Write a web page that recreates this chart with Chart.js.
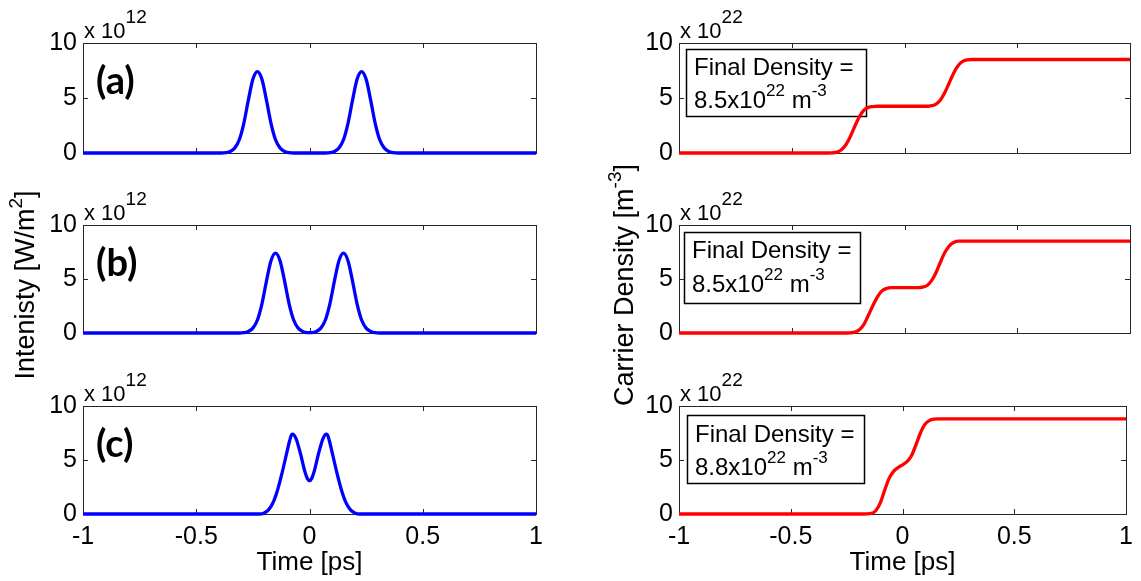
<!DOCTYPE html>
<html>
<head>
<meta charset="utf-8">
<script src="https://cdn.jsdelivr.net/npm/chart.js@4/dist/chart.umd.min.js"></script>
<style>
  html, body { margin: 0; padding: 0; background: #fff; }
  #wrap { position: relative; width: 1141px; height: 581px; overflow: hidden; background: #fff; }
  #wrap canvas { position: absolute; left: 0; top: 0; }
</style>
</head>
<body>
<div id="wrap"></div>
<script>
// ---- axis ticks ----
const xTicks = [-1, -0.5, 0, 0.5, 1];
const xTickLabels = ['-1', '-0.5', '0', '0.5', '1'];
const yTicks = [0, 5, 10];
const yTickLabels = ['0', '5', '10'];

// ---- pulse intensity, units of 10^12 W/m^2, time in ps ----
const timeIntA = [-1, -0.39, -0.37, -0.35, -0.33, -0.31, -0.29, -0.27, -0.25, -0.23, -0.21, -0.19, -0.17, -0.15, -0.13, -0.11, -0.09, -0.07,
                  0.07, 0.09, 0.11, 0.13, 0.15, 0.17, 0.19, 0.21, 0.23, 0.25, 0.27, 0.29, 0.31, 0.33, 0.35, 0.37, 0.39, 1];
const intensityA = [0, 0, 0.03, 0.13, 0.45, 1.2, 2.7, 4.8, 6.7, 7.4, 6.7, 4.8, 2.7, 1.2, 0.45, 0.13, 0.03, 0,
                    0, 0.03, 0.13, 0.45, 1.2, 2.7, 4.8, 6.7, 7.4, 6.7, 4.8, 2.7, 1.2, 0.45, 0.13, 0.03, 0, 0];

const timeIntB = [-1, -0.31, -0.29, -0.27, -0.25, -0.23, -0.21, -0.19, -0.17, -0.15, -0.13, -0.11, -0.09, -0.07, -0.05, -0.03, -0.01,
                  0.01, 0.03, 0.05, 0.07, 0.09, 0.11, 0.13, 0.15, 0.17, 0.19, 0.21, 0.23, 0.25, 0.27, 0.29, 0.31, 1];
const intensityB = [0, 0, 0.03, 0.13, 0.45, 1.2, 2.7, 4.8, 6.7, 7.4, 6.7, 4.8, 2.7, 1.2, 0.45, 0.13, 0.03,
                    0.03, 0.13, 0.45, 1.2, 2.7, 4.8, 6.7, 7.4, 6.7, 4.8, 2.7, 1.2, 0.45, 0.13, 0.03, 0, 0];

const timeIntC = [-1, -0.22, -0.2, -0.18, -0.16, -0.14, -0.12, -0.1, -0.09, -0.08, -0.075, -0.06, -0.04, -0.02, -0.01, 0,
                  0.01, 0.02, 0.04, 0.06, 0.075, 0.08, 0.09, 0.1, 0.12, 0.14, 0.16, 0.18, 0.2, 0.22, 1];
const intensityC = [0, 0, 0.1, 0.4, 1.1, 2.3, 3.9, 5.7, 6.6, 7.3, 7.4, 7.0, 5.6, 3.9, 3.3, 3.1,
                    3.3, 3.9, 5.6, 7.0, 7.4, 7.3, 6.6, 5.7, 3.9, 2.3, 1.1, 0.4, 0.1, 0, 0];

// ---- carrier density, units of 10^22 m^-3 ----
const timeDenA = [-1, -0.36, -0.32, -0.3, -0.28, -0.26, -0.24, -0.22, -0.2, -0.18, -0.16, -0.14, -0.12,
                  0.1, 0.12, 0.14, 0.16, 0.18, 0.2, 0.22, 0.24, 0.26, 0.28, 0.3, 1];
const densityA = [0, 0, 0.02, 0.08, 0.3, 0.75, 1.5, 2.45, 3.3, 3.9, 4.15, 4.22, 4.25,
                  4.25, 4.3, 4.45, 4.85, 5.55, 6.45, 7.35, 8.0, 8.35, 8.47, 8.5, 8.5];

const timeDenB = [-1, -0.28, -0.24, -0.22, -0.2, -0.18, -0.16, -0.14, -0.12, -0.1, -0.08, -0.06,
                  0.06, 0.08, 0.1, 0.12, 0.14, 0.16, 0.18, 0.2, 0.22, 0.24, 1];
const densityB = [0, 0, 0.02, 0.08, 0.3, 0.8, 1.65, 2.55, 3.35, 3.9, 4.12, 4.2,
                  4.2, 4.25, 4.4, 4.85, 5.6, 6.6, 7.5, 8.1, 8.4, 8.5, 8.5];

const timeDenC = [-1, -0.18, -0.14, -0.12, -0.1, -0.08, -0.06, -0.04, -0.02, 0, 0.02, 0.04, 0.06, 0.08, 0.1, 0.12, 0.14, 0.16, 1];
const densityC = [0, 0, 0.05, 0.3, 1.0, 2.2, 3.3, 3.95, 4.3, 4.55, 4.85, 5.4, 6.4, 7.5, 8.3, 8.65, 8.78, 8.8, 8.8];

// ---- text ----
const panelTags = ['(a)', '(b)', '(c)'];
const finalDensityText = ['8.5', '8.5', '8.8'];
const intensityExponent = '12';
const densityExponent = '22';

// ---------------------------------------------------------------
const W = 1141, H = 581;
const FONT = '"Liberation Sans", Arial, Helvetica, sans-serif';
const TAG_FONT = 'bold 38px Lato, "Liberation Sans", sans-serif';
const Y_AXIS_W = 60, X_AXIS_H = 50;
const wrap = document.getElementById('wrap');

function f(size) { return size + 'px ' + FONT; }

// draws a run of text pieces, each with its own font and vertical shift
function drawRich(ctx, parts, x, y, align) {
  let total = 0;
  for (const p of parts) { ctx.font = p.font; total += ctx.measureText(p.text).width; }
  let cx = align === 'center' ? x - total / 2 : x;
  ctx.textAlign = 'left';
  ctx.textBaseline = 'alphabetic';
  for (const p of parts) {
    ctx.font = p.font;
    ctx.fillText(p.text, cx, y + (p.dy || 0));
    cx += ctx.measureText(p.text).width;
  }
}

const left = { x0: 83, x1: 536 };
const right = { x0: 679, x1: 1130 };
const rows = [{ y0: 43, y1: 153 }, { y0: 225, y1: 333 }, { y0: 406, y1: 514 }];
const boxes = [
  { r: [686, 49, 866, 116], tx: 694, b1: 75, b2: 108 },
  { r: [684, 232, 860, 303], tx: 692, b1: 258, b2: 292 },
  { r: [687, 415, 864, 483], tx: 695, b1: 442, b2: 475 }
];

const panels = [
  { col: left, row: 0, t: timeIntA, v: intensityA, color: '#0000ff', kind: 'int' },
  { col: left, row: 1, t: timeIntB, v: intensityB, color: '#0000ff', kind: 'int' },
  { col: left, row: 2, t: timeIntC, v: intensityC, color: '#0000ff', kind: 'int' },
  { col: right, row: 0, t: timeDenA, v: densityA, color: '#ff0000', kind: 'den' },
  { col: right, row: 1, t: timeDenB, v: densityB, color: '#ff0000', kind: 'den' },
  { col: right, row: 2, t: timeDenC, v: densityC, color: '#ff0000', kind: 'den' }
];

function panelPlugin(p) {
  return {
    id: 'panelDecor',
    beforeDatasetsDraw(chart) {
      const ctx = chart.ctx;
      const a = chart.chartArea;
      const xs = chart.scales.x, ys = chart.scales.y;
      ctx.save();
      // axes box
      ctx.strokeStyle = '#262626';
      ctx.lineWidth = 1;
      ctx.strokeRect(Math.round(a.left) + 0.5, Math.round(a.top) + 0.5,
                     Math.round(a.right - a.left), Math.round(a.bottom - a.top));
      // inward tick marks on all four sides
      const tl = 5;
      ctx.beginPath();
      for (const v of xTicks.slice(1, -1)) {
        const px = Math.round(xs.getPixelForValue(v)) + 0.5;
        ctx.moveTo(px, a.bottom); ctx.lineTo(px, a.bottom - tl);
        ctx.moveTo(px, a.top); ctx.lineTo(px, a.top + tl);
      }
      for (const v of yTicks.slice(1, -1)) {
        const py = Math.round(ys.getPixelForValue(v)) + 0.5;
        ctx.moveTo(a.left, py); ctx.lineTo(a.left + tl, py);
        ctx.moveTo(a.right, py); ctx.lineTo(a.right - tl, py);
      }
      ctx.stroke();

      ctx.fillStyle = '#000';
      // scale exponent above the axes
      const ex = p.kind === 'int' ? intensityExponent : densityExponent;
      drawRich(ctx, [
        { text: 'x 10', font: f(22) },
        { text: ex, font: f(19), dy: -15 }
      ], a.left + 1, a.top - 5, 'left');

      if (p.kind === 'int') {
        // panel tag
        ctx.font = TAG_FONT;
        ctx.textAlign = 'left';
        ctx.textBaseline = 'middle';
        ctx.fillText(panelTags[p.row], a.left + 13, a.top + 39);
      } else {
        // final density annotation
        const bx = boxes[p.row];
        ctx.strokeStyle = '#000';
        ctx.lineWidth = 1.5;
        ctx.strokeRect(bx.r[0] + 0.5, bx.r[1] + 0.5, bx.r[2] - bx.r[0], bx.r[3] - bx.r[1]);
        drawRich(ctx, [{ text: 'Final Density =', font: f(24) }], bx.tx, bx.b1, 'left');
        drawRich(ctx, [
          { text: finalDensityText[p.row] + 'x10', font: f(24) },
          { text: '22', font: f(17), dy: -12 },
          { text: ' m', font: f(24) },
          { text: '-3', font: f(17), dy: -12 }
        ], bx.tx, bx.b2, 'left');
      }

      // shared axis titles
      if (p.row === 2) {
        drawRich(ctx, [{ text: 'Time [ps]', font: f(26) }], (a.left + a.right) / 2, 570, 'center');
      }
      if (p.row === 1) {
        ctx.save();
        if (p.kind === 'int') {
          ctx.translate(34, 285);
          ctx.rotate(-Math.PI / 2);
          drawRich(ctx, [
            { text: 'Intenisty [W/m', font: f(27) },
            { text: '2', font: f(19), dy: -12 },
            { text: ']', font: f(27) }
          ], 0, 0, 'center');
        } else {
          ctx.translate(633, 285);
          ctx.rotate(-Math.PI / 2);
          drawRich(ctx, [
            { text: 'Carrier Density [m', font: f(27) },
            { text: '-3', font: f(19), dy: -12 },
            { text: ']', font: f(27) }
          ], 0, 0, 'center');
        }
        ctx.restore();
      }
      ctx.restore();
    }
  };
}

function makeChart(p) {
  const canvas = document.createElement('canvas');
  canvas.width = W; canvas.height = H;
  canvas.style.width = W + 'px'; canvas.style.height = H + 'px';
  wrap.appendChild(canvas);
  const r = rows[p.row];
  const showX = p.row === 2;
  new Chart(canvas, {
    type: 'line',
    data: {
      datasets: [{
        data: p.t.map((t, i) => ({ x: t, y: p.v[i] })),
        borderColor: p.color,
        borderWidth: 3.3,
        pointRadius: 0,
        fill: false,
        cubicInterpolationMode: 'monotone',
        clip: 4
      }]
    },
    options: {
      responsive: false,
      animation: false,
      devicePixelRatio: 1,
      events: [],
      layout: { padding: {
        left: p.col.x0 - Y_AXIS_W, right: W - p.col.x1,
        top: r.y0, bottom: H - r.y1 - X_AXIS_H } },
      plugins: { legend: { display: false }, tooltip: { enabled: false }, title: { display: false } },
      scales: {
        x: {
          type: 'linear', min: -1, max: 1,
          afterBuildTicks: s => { s.ticks = xTicks.map(v => ({ value: v })); },
          afterFit: s => { s.height = X_AXIS_H; },
          grid: { display: false, drawTicks: false },
          border: { display: false },
          ticks: {
            display: showX, autoSkip: false, maxRotation: 0, padding: 8,
            callback: (v, i) => xTickLabels[i],
            font: { family: FONT, size: 25 }, color: '#000'
          }
        },
        y: {
          type: 'linear', min: 0, max: 10,
          afterBuildTicks: s => { s.ticks = yTicks.map(v => ({ value: v })); },
          afterFit: s => { s.width = Y_AXIS_W; },
          grid: { display: false, drawTicks: false },
          border: { display: false },
          ticks: {
            autoSkip: false, padding: 6,
            callback: (v, i) => yTickLabels[i],
            font: { family: FONT, size: 25 }, color: '#000'
          }
        }
      }
    },
    plugins: [panelPlugin(p)]
  });
}

panels.forEach(makeChart);
</script>
</body>
</html>
